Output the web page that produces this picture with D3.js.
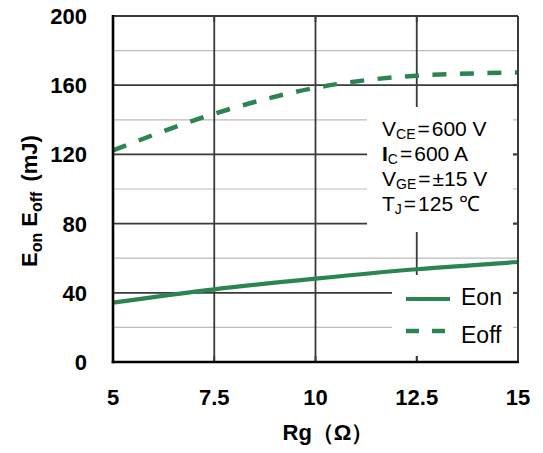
<!DOCTYPE html>
<html>
<head>
<meta charset="utf-8">
<script src="https://cdn.jsdelivr.net/npm/d3@7"></script>
<style>
    body { margin: 0; background: #fff; }
    text { font-family: "Liberation Sans", Arial, sans-serif; }
</style>
</head>
<body>
<script>
// values
let rg = [5, 7.5, 10, 12.5, 15];
let eon = [34.3, 42, 48.2, 53.6, 57.8];
let eoff = [122.3, 143.5, 158.5, 165.5, 167.3];
let xTicks = [5, 7.5, 10, 12.5, 15];
let yMajor = [0, 40, 80, 120, 160, 200];
let yMinor = [20, 60, 100, 140, 180];
let conditions = [
    ["V", "CE", "600 V"],
    ["I", "C", "600 A"],
    ["V", "GE", "±15 V"],
    ["T", "J", "125 ℃"]
];
let seriesNames = ["Eon", "Eoff"];

let wSvg = 543;
let hSvg = 453;
let pLeft = 113, pRight = 518, pTop = 16, pBottom = 362;
let green = "#2b8552";
let grid = "#3a3a3a";

let svg = d3.select("body").append("svg")
    .attr("width", wSvg)
    .attr("height", hSvg);

let x = d3.scaleLinear().domain([5, 15]).range([pLeft, pRight]);
let y = d3.scaleLinear().domain([0, 200]).range([pBottom, pTop]);

// gridlines
svg.append("g").selectAll("line").data(yMinor).enter().append("line")
    .attr("x1", pLeft).attr("x2", pRight)
    .attr("y1", (d) => y(d)).attr("y2", (d) => y(d))
    .style("stroke", "#bbb").style("stroke-width", 1.2);
svg.append("g").selectAll("line").data(yMajor.slice(1, -1)).enter().append("line")
    .attr("x1", pLeft).attr("x2", pRight)
    .attr("y1", (d) => y(d)).attr("y2", (d) => y(d))
    .style("stroke", grid).style("stroke-width", 1.8);
svg.append("g").selectAll("line").data(xTicks.slice(1, -1)).enter().append("line")
    .attr("y1", pTop).attr("y2", pBottom)
    .attr("x1", (d) => x(d)).attr("x2", (d) => x(d))
    .style("stroke", grid).style("stroke-width", 1.8);

// white boxes over the grid
svg.append("rect").attr("x", 367).attr("y", 107).attr("width", 146).attr("height", 125)
    .style("fill", "#fff");
svg.append("rect").attr("x", 392).attr("y", 275).attr("width", 121).attr("height", 81)
    .style("fill", "#fff");

// inward ticks on right, top and bottom
svg.append("g").selectAll("line").data(yMajor.slice(1, -1)).enter().append("line")
    .attr("x1", pRight - 5).attr("x2", pRight)
    .attr("y1", (d) => y(d)).attr("y2", (d) => y(d))
    .style("stroke", grid).style("stroke-width", 1.8);
svg.append("g").selectAll("line").data(xTicks.slice(1, -1)).enter().append("line")
    .attr("y1", pBottom - 6).attr("y2", pBottom)
    .attr("x1", (d) => x(d)).attr("x2", (d) => x(d))
    .style("stroke", grid).style("stroke-width", 1.8);
svg.append("g").selectAll("line").data(xTicks.slice(1, -1)).enter().append("line")
    .attr("y1", pTop).attr("y2", pTop + 6)
    .attr("x1", (d) => x(d)).attr("x2", (d) => x(d))
    .style("stroke", grid).style("stroke-width", 1.8);

// curves
let line = d3.line().curve(d3.curveMonotoneX);
svg.append("path")
    .attr("d", line(rg.map((d, i) => [x(d), y(eon[i])])))
    .style("fill", "none").style("stroke", green).style("stroke-width", 4.2);
svg.append("path")
    .attr("d", line(rg.map((d, i) => [x(d), y(eoff[i])])))
    .style("fill", "none").style("stroke", green).style("stroke-width", 4.5)
    .style("stroke-dasharray", "14,13.5");

// frame
svg.append("line").attr("x1", pLeft).attr("x2", pRight).attr("y1", pTop).attr("y2", pTop)
    .style("stroke", grid).style("stroke-width", 2);
svg.append("line").attr("x1", pRight).attr("x2", pRight).attr("y1", pTop).attr("y2", pBottom)
    .style("stroke", grid).style("stroke-width", 2);
svg.append("line").attr("x1", pLeft).attr("x2", pLeft).attr("y1", pTop - 1).attr("y2", pBottom + 1.3)
    .style("stroke", "#000").style("stroke-width", 2.6);
svg.append("line").attr("x1", pLeft - 1.3).attr("x2", pRight + 1).attr("y1", pBottom).attr("y2", pBottom)
    .style("stroke", "#000").style("stroke-width", 2.6);

// tick labels
svg.append("g").selectAll("text").data(yMajor).enter().append("text")
    .attr("x", 87).attr("y", (d) => y(d) + 8)
    .attr("text-anchor", "end")
    .style("font-size", "22px").style("font-weight", "bold")
    .text((d) => d);
svg.append("g").selectAll("text").data(xTicks).enter().append("text")
    .attr("x", (d) => x(d)).attr("y", 405)
    .attr("text-anchor", "middle")
    .style("font-size", "22px").style("font-weight", "bold")
    .text((d) => d);

// axis titles
svg.append("text").attr("x", 328).attr("y", 440)
    .attr("text-anchor", "middle")
    .style("font-size", "22px").style("font-weight", "bold")
    .text("Rg（Ω）");

let yTitle = svg.append("text")
    .attr("transform", "translate(37,201) rotate(-90)")
    .attr("text-anchor", "middle")
    .style("font-size", "22px").style("font-weight", "bold");
yTitle.append("tspan").text("E");
yTitle.append("tspan").attr("dy", 5).style("font-size", "16px").text("on");
yTitle.append("tspan").attr("dy", -5).attr("dx", 6).text("E");
yTitle.append("tspan").attr("dy", 5).style("font-size", "16px").text("off");
yTitle.append("tspan").attr("dy", -5).attr("dx", 10).text("(mJ)");

// conditions
conditions.forEach((c, i) => {
    let t = svg.append("text").attr("x", 382).attr("y", 136 + i * 25)
        .style("font-size", "21px");
    t.append("tspan").style("font-weight", c[0] === "I" ? "bold" : "normal").text(c[0]);
    t.append("tspan").attr("dy", 3).style("font-size", "14px").text(c[1]);
    t.append("tspan").attr("dy", -3).attr("dx", 2).text("=");
    t.append("tspan").attr("dx", 2).text(c[2]);
});

// legend
let legendY = [299, 331];
let legendText = [305, 343];
seriesNames.forEach((name, i) => {
    svg.append("line")
        .attr("x1", 406).attr("x2", 450)
        .attr("y1", legendY[i]).attr("y2", legendY[i])
        .style("stroke", green).style("stroke-width", i === 0 ? 4.2 : 4.5)
        .style("stroke-dasharray", i === 0 ? null : "13,13");
    svg.append("text").attr("x", 461).attr("y", legendText[i])
        .style("font-size", "23px")
        .text(name);
});
</script>
</body>
</html>
